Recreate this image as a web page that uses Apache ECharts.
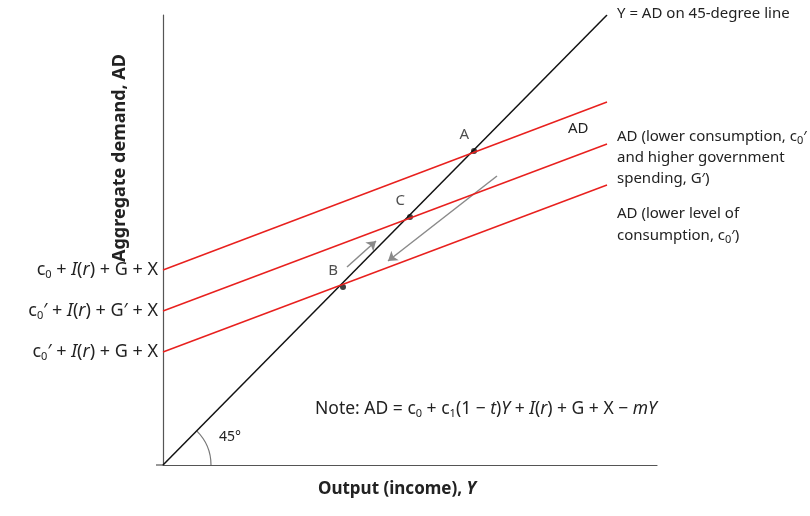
<!DOCTYPE html>
<html><head><meta charset="utf-8">
<script src="https://cdn.jsdelivr.net/npm/echarts@6/dist/echarts.min.js"></script>
<style>html,body{margin:0;padding:0;background:#fff}#c{width:810px;height:516px}</style>
</head><body><div id="c"></div>
<script>
// values in chart units (x: output, y: aggregate demand)
const line45 = [[0,0],[444,450]];
const adTop = [[0,195],[444,363]];
const adMid = [[0,154],[444,321]];
const adLow = [[0,113],[444,280]];
const pointsABC = [["A",311,314],["C",247,248],["B",180,178]];
const arrowUp = [[184,198],[213,224]];
const arrowDown = [[334,289],[225,204]];

const chart = echarts.init(document.getElementById('c'));
const F = '"Noto Sans", sans-serif';
const rich = {
  sub:{fontSize:11,verticalAlign:'bottom',padding:[9,0,0,0],fontFamily:F,color:'#222'},
  it:{fontStyle:'italic',fontSize:18,fontFamily:F,color:'#222'}
};
const richN = {
  sub:{fontSize:11,verticalAlign:'bottom',padding:[9,0,0,0],fontFamily:F,color:'#222'},
  it:{fontStyle:'italic',fontSize:17.5,fontFamily:F,color:'#222'}
};
function txt(x,y,t){return {type:'text',left:x,top:y,style:{text:t,font:'15px '+F,fill:'#222',rich:rich}};}
function redLine(d){return {type:'line',data:d,symbol:'none',lineStyle:{color:'#e8201e',width:1.5},silent:true};}
function arrow(d){return {type:'lines',coordinateSystem:'cartesian2d',data:[{coords:d}],symbol:['none','arrow'],symbolSize:9,lineStyle:{color:'#8a8a8a',width:1.5,opacity:1},silent:true};}
chart.setOption({
  animation:false,
  grid:{left:163,top:15,right:153,bottom:51},
  xAxis:{type:'value',min:0,max:494,axisLine:{lineStyle:{color:'#555',width:1.2}},axisTick:{show:false},axisLabel:{show:false},splitLine:{show:false}},
  yAxis:{type:'value',min:0,max:450,axisLine:{lineStyle:{color:'#555',width:1.2}},axisTick:{show:false},axisLabel:{show:false},splitLine:{show:false}},
  series:[
    {type:'line',data:line45,symbol:'none',lineStyle:{color:'#111',width:1.5},silent:true},
    redLine(adTop),redLine(adMid),redLine(adLow),
    {type:'scatter',data:pointsABC.map(p=>({value:[p[1],p[2]],name:p[0]})),symbolSize:6,itemStyle:{color:'#111'},
     label:{show:true,formatter:'{b}',position:'left',distance:0,offset:[-2,-16],fontSize:15,fontFamily:F,color:'#222'}},
    arrow(arrowUp),arrow(arrowDown)
  ],
  graphic:[
    {type:'line',shape:{x1:156,y1:465,x2:163,y2:465},style:{stroke:'#555',lineWidth:1.2}},
    {type:'arc',shape:{cx:163,cy:465,r:48,startAngle:-Math.PI/4,endAngle:0},style:{stroke:'#777',lineWidth:1.2,fill:null}},
    {type:'text',left:219,top:430,style:{text:'45°',font:'14px '+F,fill:'#222'}},
    {type:'text',rotation:Math.PI/2,x:120,y:158,style:{text:'Aggregate demand, AD',font:'bold 18px '+F,fill:'#222',align:'center',verticalAlign:'middle'}},
    {type:'text',left:318,top:481,style:{text:'{b|Output (income), }{bi|Y}',rich:{b:{font:'bold 17px '+F,fill:'#222'},bi:{font:'italic bold 17px '+F,fill:'#222'}}}},
    {type:'text',x:158,y:270,style:{text:'c{sub|0} + {it|I}({it|r}) + G + X',font:'18px '+F,fill:'#222',rich:rich,align:'right',verticalAlign:'middle'}},
    {type:'text',x:158,y:311,style:{text:'c{sub|0}′ + {it|I}({it|r}) + G′ + X',font:'18px '+F,fill:'#222',rich:rich,align:'right',verticalAlign:'middle'}},
    {type:'text',x:158,y:352,style:{text:'c{sub|0}′ + {it|I}({it|r}) + G + X',font:'18px '+F,fill:'#222',rich:rich,align:'right',verticalAlign:'middle'}},
    txt(617,6,'Y = AD on 45-degree line'),
    txt(568,121,'AD'),
    txt(617,129,'AD (lower consumption, c{sub|0}′'),
    txt(617,150,'and higher government'),
    txt(617,171,'spending, G′)'),
    txt(617,206,'AD (lower level of'),
    txt(617,228,'consumption, c{sub|0}′)'),
    {type:'text',left:315,top:400,style:{text:'Note: AD = c{sub|0} + c{sub|1}(1 − {it|t}){it|Y} + {it|I}({it|r}) + G + X − {it|mY}',font:'17.5px '+F,fill:'#222',rich:richN}}
  ]
});
</script></body></html>
